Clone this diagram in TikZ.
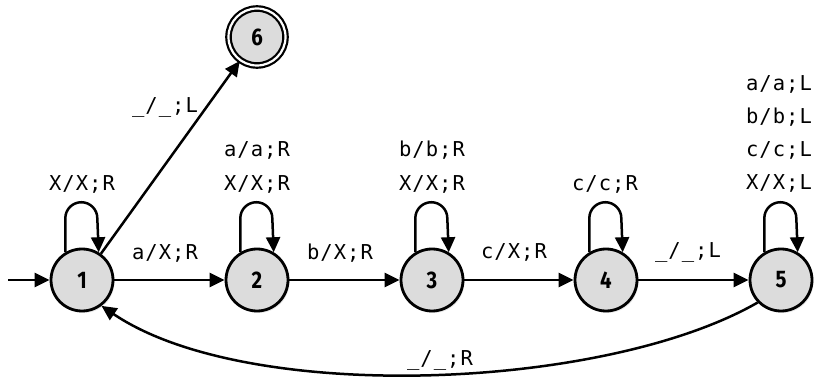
\documentclass[tikz,border=0pt]{standalone}
\usepackage{fontspec}
\newfontfamily\labf[LetterSpace=5]{DejaVu Sans Mono}
\newfontfamily\numf[FakeStretch=0.85]{Fira Sans}
\usetikzlibrary{arrows.meta,shadows}
\definecolor{nodefill}{RGB}{220,220,220}
\begin{document}
\begin{tikzpicture}[x=1pt,y=1pt,
 state/.style={circle,draw=black,line width=2.8pt,fill=nodefill,minimum size=62pt,inner sep=0pt,
   font=\numf\bfseries\fontsize{24}{24}\selectfont,
   drop shadow={opacity=0.18,shadow xshift=1.5pt,shadow yshift=-2pt}},
 accept/.style={state,double=white,double distance=2.2pt,line width=2.2pt,minimum size=57pt},
 arr/.style={line width=2.5pt,-{Triangle[length=15pt,width=14pt]}},
 lab/.style={font=\labf\fontsize{20.5}{34}\selectfont,align=center,inner sep=0pt}]
\useasboundingbox (0,0) rectangle (814,383);
\node[state] (n1) at (82,103) {1};
\node[state] (n2) at (257,103) {2};
\node[state] (n3) at (432,103) {3};
\node[state] (n4) at (606,103) {4};
\node[state] (n5) at (781,103) {5};
\node[accept] (n6) at (257,346) {6};
\coordinate (start) at (8,103);
\draw[arr] (start) -- (n1);
\foreach \n in {n1,n2,n3,n4,n5}{
  \draw[arr] (\n.121) -- ++(0,34) arc[start angle=180,end angle=0,radius=16] -- (\n.59);
}
\draw[arr] (n1) -- (n2);
\draw[arr] (n2) -- (n3);
\draw[arr] (n3) -- (n4);
\draw[arr] (n4) -- (n5);
\draw[arr] (n1) -- (n6);
\draw[arr] (n5.224) .. controls +(-153,-88) and +(146,-99) .. (n1.307);
\node[lab] (l1) at (82,199) {X/X;R};
\node[lab] (l2) at (257,216) {a/a;R\\X/X;R};
\node[lab] (l3) at (432,216) {b/b;R\\X/X;R};
\node[lab] (l4) at (605,199) {c/c;R};
\node[lab,font=\labf\fontsize{20.5}{33}\selectfont] (l5) at (779,249) {a/a;L\\b/b;L\\c/c;L\\X/X;L};
\node[lab] (e12) at (165,130) {a/X;R};
\node[lab] (e23) at (340,130) {b/X;R};
\node[lab] (e34) at (514,131) {c/X;R};
\node[lab] (e45) at (688,131) {\_/\_;L};
\node[lab] (e16) at (165,276) {\_/\_;L};
\node[lab] (e51) at (440,23) {\_/\_;R};
\end{tikzpicture}
\end{document}
